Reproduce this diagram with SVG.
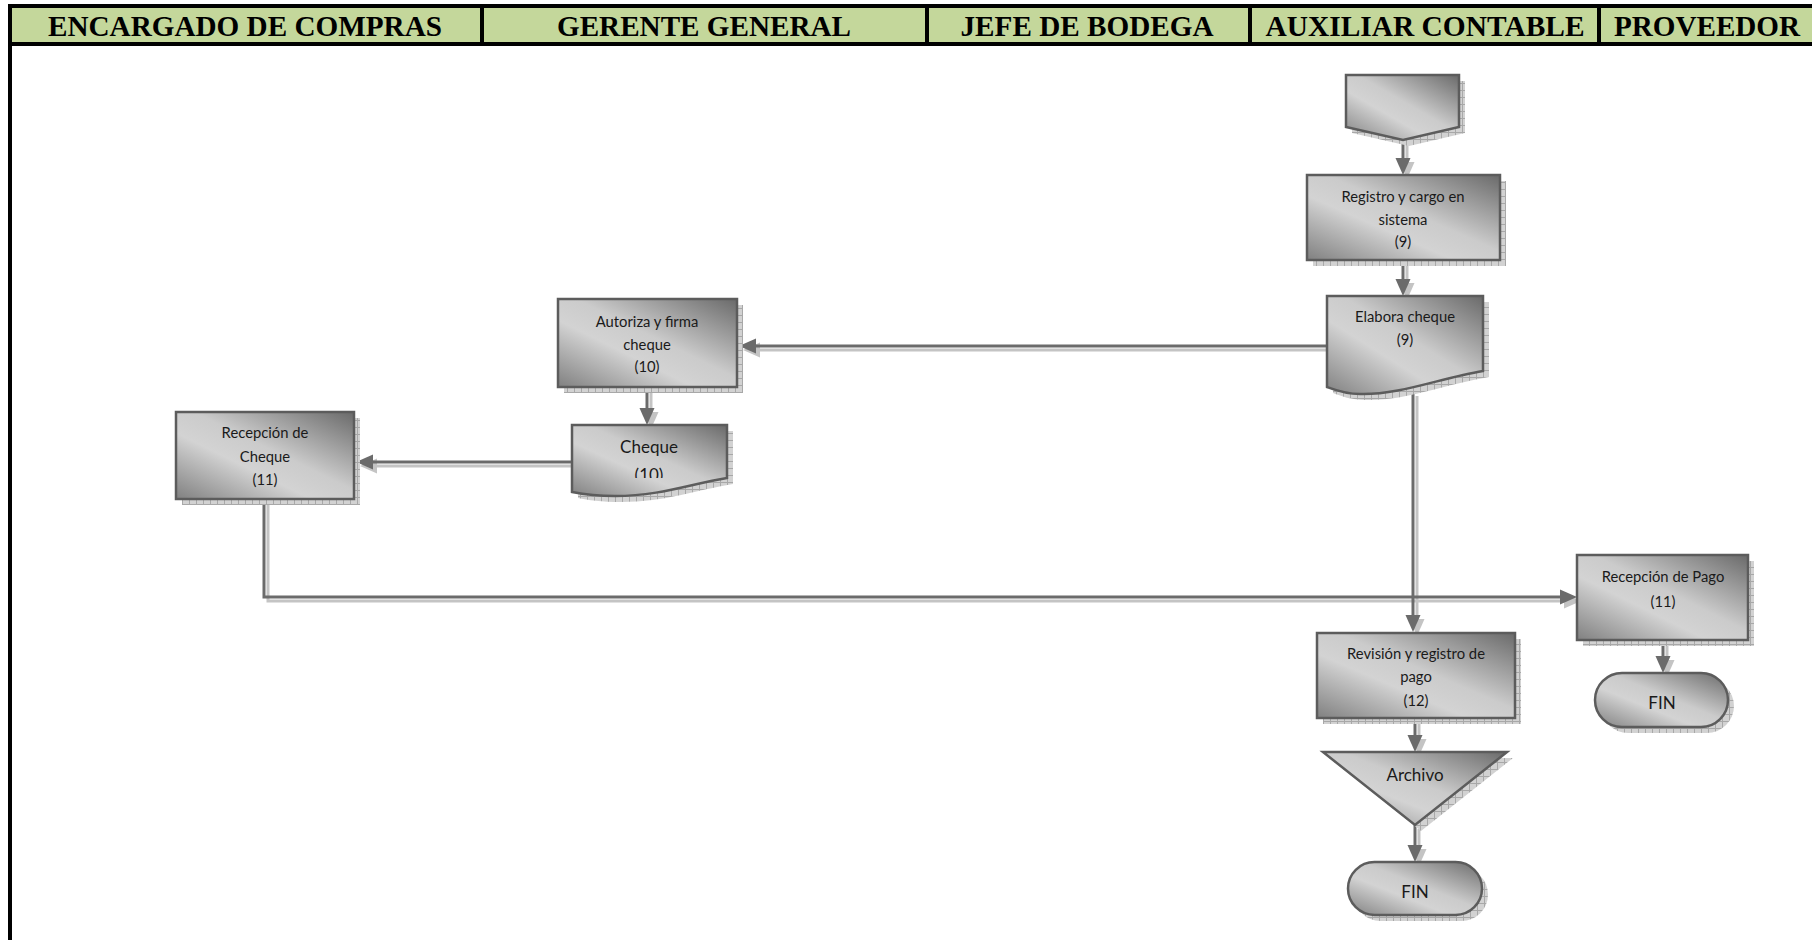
<svg xmlns="http://www.w3.org/2000/svg" width="1812" height="940" viewBox="0 0 1812 940">
  <defs>
    <linearGradient id="shade" x1="1" y1="0" x2="0" y2="1">
      <stop offset="0" stop-color="#6a6a6a"/>
      <stop offset="0.45" stop-color="#cbcbcb"/>
      <stop offset="0.62" stop-color="#d3d3d3"/>
      <stop offset="1" stop-color="#808080"/>
    </linearGradient>
    <pattern id="hatch" width="7" height="7" patternUnits="userSpaceOnUse">
      <rect width="7" height="7" fill="#d2d2d2"/>
      <path d="M0 0.5H7M0.5 0V7" stroke="#a8a8a8" stroke-width="1"/>
    </pattern>
    <clipPath id="chequeText">
      <rect x="572" y="425" width="155" height="53"/>
    </clipPath>
  </defs>
  <style>
    .lane { font-family: "Liberation Serif", "Times New Roman", serif; font-weight: bold; font-size: 29.3px; fill: #000; text-anchor: middle; }
    .shape { fill: url(#shade); stroke: #5c5c5c; stroke-width: 2.5; }
    .sh { fill: url(#hatch); stroke: none; }
    .t { font-family: Lato, "Open Sans", sans-serif; font-size: 14.8px; fill: #1a1a1a; text-anchor: middle; }
    .tl { font-family: Lato, "Open Sans", sans-serif; font-size: 17px; fill: #1a1a1a; text-anchor: middle; }
    .wire { stroke: #6b6b6b; fill: #6b6b6b; }
    .wire-shadow { stroke: #c4c4c4; fill: #c4c4c4; }
    .ln { fill: none; stroke-width: 3; }
    .ah { stroke: none; }
  </style>

  <rect width="1812" height="940" fill="#ffffff"/>

  <!-- swimlane header -->
  <g id="lanes">
    <rect x="8" y="4" width="1804" height="42" fill="#c4d79b"/>
    <rect x="8" y="4" width="1804" height="4" fill="#000"/>
    <rect x="8" y="42" width="1804" height="4" fill="#000"/>
    <rect x="8" y="4" width="4" height="936" fill="#000"/>
    <rect x="480" y="4" width="4" height="42" fill="#000"/>
    <rect x="925" y="4" width="4" height="42" fill="#000"/>
    <rect x="1248" y="4" width="4" height="42" fill="#000"/>
    <rect x="1597" y="4" width="4" height="42" fill="#000"/>
    <text class="lane" x="245" y="36" textLength="394" lengthAdjust="spacingAndGlyphs">ENCARGADO DE COMPRAS</text>
    <text class="lane" x="704" y="36" textLength="294" lengthAdjust="spacingAndGlyphs">GERENTE GENERAL</text>
    <text class="lane" x="1087" y="36" textLength="253" lengthAdjust="spacingAndGlyphs">JEFE DE BODEGA</text>
    <text class="lane" x="1425" y="36" textLength="319" lengthAdjust="spacingAndGlyphs">AUXILIAR CONTABLE</text>
    <text class="lane" x="1707" y="36" textLength="186" lengthAdjust="spacingAndGlyphs">PROVEEDOR</text>
  </g>

  <!-- connectors: shadow copy first, then the drawn lines -->
  <use href="#connectors" class="wire-shadow" transform="translate(4,4)"/>
  <g class="wire">
    <g id="connectors">
      <path class="ln" d="M1403 140V160"/>
      <polygon class="ah" points="1395.5,158 1410.5,158 1403,175"/>
      <path class="ln" d="M1403 260V281"/>
      <polygon class="ah" points="1395.5,279 1410.5,279 1403,296"/>
      <path class="ln" d="M1327 346H754"/>
      <polygon class="ah" points="756,338.5 756,353.5 739,346"/>
      <path class="ln" d="M647 387V410"/>
      <polygon class="ah" points="639.5,408 654.5,408 647,425"/>
      <path class="ln" d="M572 462H371"/>
      <polygon class="ah" points="373,454.5 373,469.5 356,462"/>
      <path class="ln" d="M264 499V597H1562"/>
      <polygon class="ah" points="1560,589.5 1560,604.5 1577,597"/>
      <path class="ln" d="M1413 392V617"/>
      <polygon class="ah" points="1405.5,615 1420.5,615 1413,632"/>
      <path class="ln" d="M1415 718V737"/>
      <polygon class="ah" points="1407.5,735 1422.5,735 1415,752"/>
      <path class="ln" d="M1415 825V847"/>
      <polygon class="ah" points="1407.5,845 1422.5,845 1415,862"/>
      <path class="ln" d="M1663 640V658"/>
      <polygon class="ah" points="1655.5,656 1670.5,656 1663,673"/>
    </g>
  </g>

  <!-- off-page connector -->
  <g id="n-offpage">
    <polygon class="sh" transform="translate(6,6)" points="1346,75 1459,75 1459,127 1403,140 1346,127"/>
    <polygon class="shape" points="1346,75 1459,75 1459,127 1403,140 1346,127"/>
  </g>

  <g id="n-registro">
    <rect class="sh" x="1313" y="181" width="193" height="85"/>
    <rect class="shape" x="1307" y="175" width="193" height="85"/>
    <text class="t" x="1403" y="202">Registro y cargo en</text>
    <text class="t" x="1403" y="225">sistema</text>
    <text class="t" x="1403" y="247">(9)</text>
  </g>

  <g id="n-elabora">
    <path class="sh" transform="translate(6,6)" d="M1327 296H1483V371C1440 378 1400 395 1360 394C1345 394 1335 390 1327 387Z"/>
    <path class="shape" d="M1327 296H1483V371C1440 378 1400 395 1360 394C1345 394 1335 390 1327 387Z"/>
    <text class="t" x="1405" y="322">Elabora cheque</text>
    <text class="t" x="1405" y="345">(9)</text>
  </g>

  <g id="n-autoriza">
    <rect class="sh" x="564" y="305" width="179" height="88"/>
    <rect class="shape" x="558" y="299" width="179" height="88"/>
    <text class="t" x="647" y="327">Autoriza y firma</text>
    <text class="t" x="647" y="350">cheque</text>
    <text class="t" x="647" y="372">(10)</text>
  </g>

  <g id="n-cheque">
    <path class="sh" transform="translate(6,6)" d="M572 425H727V478C690 484 660 496 615 496C595 496 582 494 572 492Z"/>
    <path class="shape" d="M572 425H727V478C690 484 660 496 615 496C595 496 582 494 572 492Z"/>
    <g clip-path="url(#chequeText)">
      <text class="tl" x="649" y="453">Cheque</text>
      <text class="tl" x="649" y="481">(10)</text>
    </g>
  </g>

  <g id="n-recepcion-cheque">
    <rect class="sh" x="182" y="418" width="178" height="87"/>
    <rect class="shape" x="176" y="412" width="178" height="87"/>
    <text class="t" x="265" y="438">Recepción de</text>
    <text class="t" x="265" y="462">Cheque</text>
    <text class="t" x="265" y="485">(11)</text>
  </g>

  <g id="n-recepcion-pago">
    <rect class="sh" x="1583" y="561" width="171" height="85"/>
    <rect class="shape" x="1577" y="555" width="171" height="85"/>
    <text class="t" x="1663" y="582">Recepción de Pago</text>
    <text class="t" x="1663" y="607">(11)</text>
  </g>

  <g id="n-fin-pago">
    <rect class="sh" x="1601" y="679" width="133" height="54" rx="27"/>
    <rect class="shape" x="1595" y="673" width="133" height="54" rx="27"/>
    <text class="tl" x="1662" y="709">FIN</text>
  </g>

  <g id="n-revision">
    <rect class="sh" x="1323" y="639" width="198" height="85"/>
    <rect class="shape" x="1317" y="633" width="198" height="85"/>
    <text class="t" x="1416" y="659">Revisión y registro de</text>
    <text class="t" x="1416" y="682">pago</text>
    <text class="t" x="1416" y="706">(12)</text>
  </g>

  <g id="n-archivo">
    <polygon class="sh" transform="translate(6,6)" points="1323,752 1507,752 1415,825"/>
    <polygon class="shape" points="1323,752 1507,752 1415,825"/>
    <text class="tl" x="1415" y="781">Archivo</text>
  </g>

  <g id="n-fin">
    <rect class="sh" x="1354" y="868" width="134" height="53" rx="26.5"/>
    <rect class="shape" x="1348" y="862" width="134" height="53" rx="26.5"/>
    <text class="tl" x="1415" y="898">FIN</text>
  </g>
</svg>
